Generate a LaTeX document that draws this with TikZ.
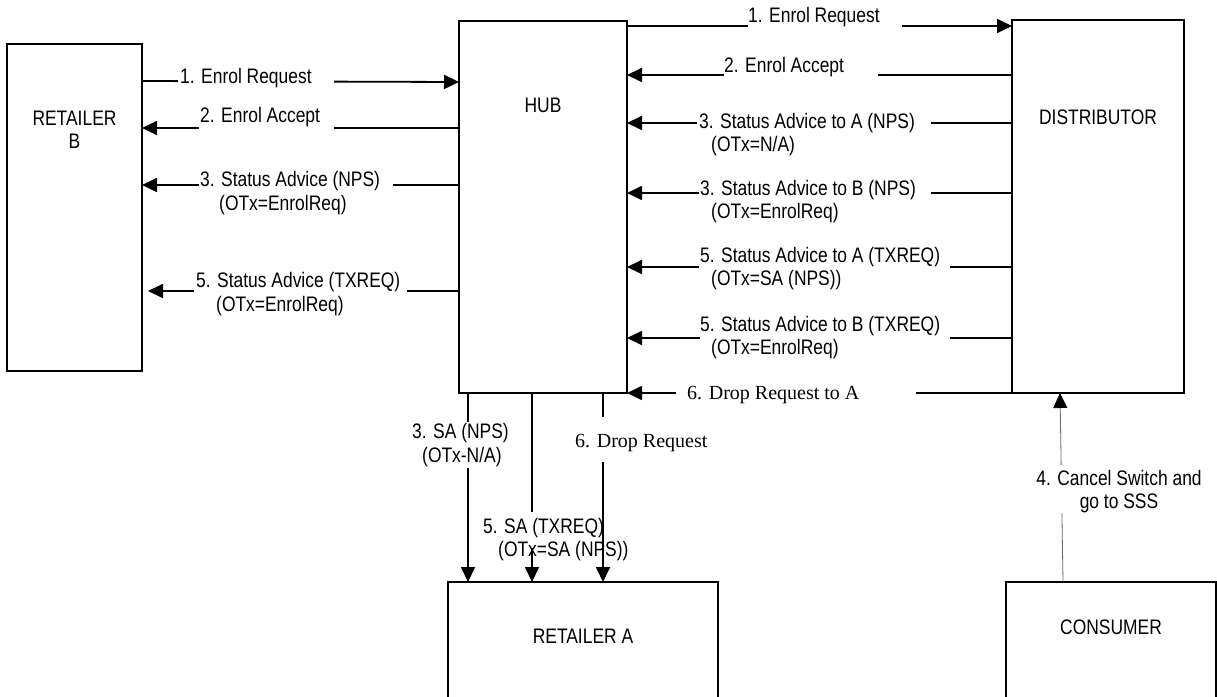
\documentclass[tikz,border=0pt]{standalone}
\usepackage{fontspec}
\setmainfont{Liberation Sans}[FakeStretch=0.83]
\newfontfamily\tms{Liberation Serif}
\usetikzlibrary{arrows.meta,calc}
\begin{document}
\begin{tikzpicture}[x=1pt,y=-1pt,
  box/.style={draw, line width=1.8pt, inner sep=0pt, outer sep=0pt, anchor=north west},
  conn/.style={line width=1.8pt, -{Triangle[length=15pt,width=14pt]}},
  thinconn/.style={line width=0.8pt, draw=black!60, -{Triangle[length=15pt,width=14pt,color=black]}},
  gap/.style={fill=white},
  txt/.style={anchor=base west, inner sep=0pt, font=\fontsize{21}{24}\selectfont},
  stxt/.style={anchor=base west, inner sep=0pt, font=\fontsize{20}{24}\selectfont\tms},
  ctxt/.style={anchor=base, inner sep=0pt, font=\fontsize{21}{24}\selectfont}]
\useasboundingbox (0,0) rectangle (1217,696);
\fill[white] (0,0) rectangle (1217,696);

% boxes
\node[box, minimum width=135pt, minimum height=327pt] (retB) at (7,44) {};
\node[box, minimum width=168pt, minimum height=372pt] (hub) at (459,21) {};
\node[box, minimum width=172pt, minimum height=373pt] (dist) at (1012,20) {};
\node[box, minimum width=270pt, minimum height=140pt] (retA) at (448,582) {};
\node[box, minimum width=210pt, minimum height=140pt] (cons) at (1006,582) {};

% box texts
\node[ctxt] (retBt1) at (74.5,125) {RETAILER};
\node[ctxt] (retBt2) at (74.5,148) {B};
\node[ctxt] (hubt) at (543,112) {HUB};
\node[ctxt] (distt) at (1098,124) {DISTRIBUTOR};
\node[ctxt] (retAt) at (583,643) {RETAILER A};
\node[ctxt] (const) at (1111,634) {CONSUMER};

% connectors left
\draw[conn] (retB.east |- 0,81) -- (hub.west |- 0,82);
\draw[conn] (hub.west |- 0,128) -- (retB.east |- 0,128);
\draw[conn] (hub.west |- 0,185) -- (retB.east |- 0,185);
\draw[conn] (hub.west |- 0,291) -- ($(retB.east |- 0,291)+(6,0)$);
% connectors right
\draw[conn] (hub.east |- 0,26) -- (dist.west |- 0,26);
\draw[conn] (dist.west |- 0,75) -- (hub.east |- 0,75);
\draw[conn] (dist.west |- 0,123) -- (hub.east |- 0,123);
\draw[conn] (dist.west |- 0,193) -- (hub.east |- 0,193);
\draw[conn] (dist.west |- 0,267) -- (hub.east |- 0,267);
\draw[conn] (dist.west |- 0,338) -- (hub.east |- 0,338);
\draw[conn] (dist.south west) -- (hub.south east);
% connectors down
\draw[conn] (hub.south -| 468,0) -- (retA.north -| 468,0);
\draw[conn] (hub.south -| 532,0) -- (retA.north -| 532,0);
\draw[conn] (hub.south -| 603,0) -- (retA.north -| 603,0);
\draw[thinconn] (cons.north -| 1063,0) -- (dist.south -| 1060,0);

% gaps behind labels
\fill[gap] (178,76) rectangle (334,87);
\fill[gap] (199,123) rectangle (334,133);
\fill[gap] (199,180) rectangle (393,190);
\fill[gap] (194,286) rectangle (407,296);
\fill[gap] (748,21) rectangle (902,31);
\fill[gap] (724,70) rectangle (878,80);
\fill[gap] (697,118) rectangle (931,128);
\fill[gap] (699,188) rectangle (931,198);
\fill[gap] (699,262) rectangle (950,272);
\fill[gap] (700,333) rectangle (950,343);
\fill[gap] (676,388) rectangle (916,398);
\fill[gap] (463,422) rectangle (473,468);
\fill[gap] (527,512) rectangle (537,548);
\fill[gap] (598,417) rectangle (608,462);
\fill[gap] (1056,465) rectangle (1067,513);

% labels
\node[txt] (t1l) at (180,83) {1. Enrol Request};
\node[txt] (t2l) at (200,122) {2. Enrol Accept};
\node[txt] (t3l) at (200,186) {3. Status Advice (NPS)};
\node[txt] (t3lb) at (219,210) {(OTx=EnrolReq)};
\node[txt] (t5l) at (196,287) {5. Status Advice (TXREQ)};
\node[txt] (t5lb) at (216,311) {(OTx=EnrolReq)};

\node[txt] (t1r) at (748,23) {1. Enrol Request};
\node[txt] (t2r) at (724,72) {2. Enrol Accept};
\node[txt] (t3ra) at (699,128) {3. Status Advice to A (NPS)};
\node[txt] (t3rab) at (711,151) {(OTx=N/A)};
\node[txt] (t3rb) at (700,195) {3. Status Advice to B (NPS)};
\node[txt] (t3rbb) at (711,218) {(OTx=EnrolReq)};
\node[txt] (t5ra) at (700,262) {5. Status Advice to A (TXREQ)};
\node[txt] (t5rab) at (711,285) {(OTx=SA (NPS))};
\node[txt] (t5rb) at (700,331) {5. Status Advice to B (TXREQ)};
\node[txt] (t5rbb) at (711,354) {(OTx=EnrolReq)};
\node[stxt] (t6r) at (687,399) {6. Drop Request to A};

\node[txt] (t3b) at (412,438) {3. SA (NPS)};
\node[txt] (t3bb) at (422,462) {(OTx-N/A)};
\node[txt] (t5b) at (483,533) {5. SA (TXREQ)};
\node[txt] (t5bb) at (498,556) {(OTx=SA (NPS))};
\node[stxt] (t6b) at (575,447) {6. Drop Request};
\node[ctxt] (t4a) at (1119,485) {4. Cancel Switch and};
\node[ctxt] (t4b) at (1119,508) {go to SSS};
\end{tikzpicture}
\end{document}
